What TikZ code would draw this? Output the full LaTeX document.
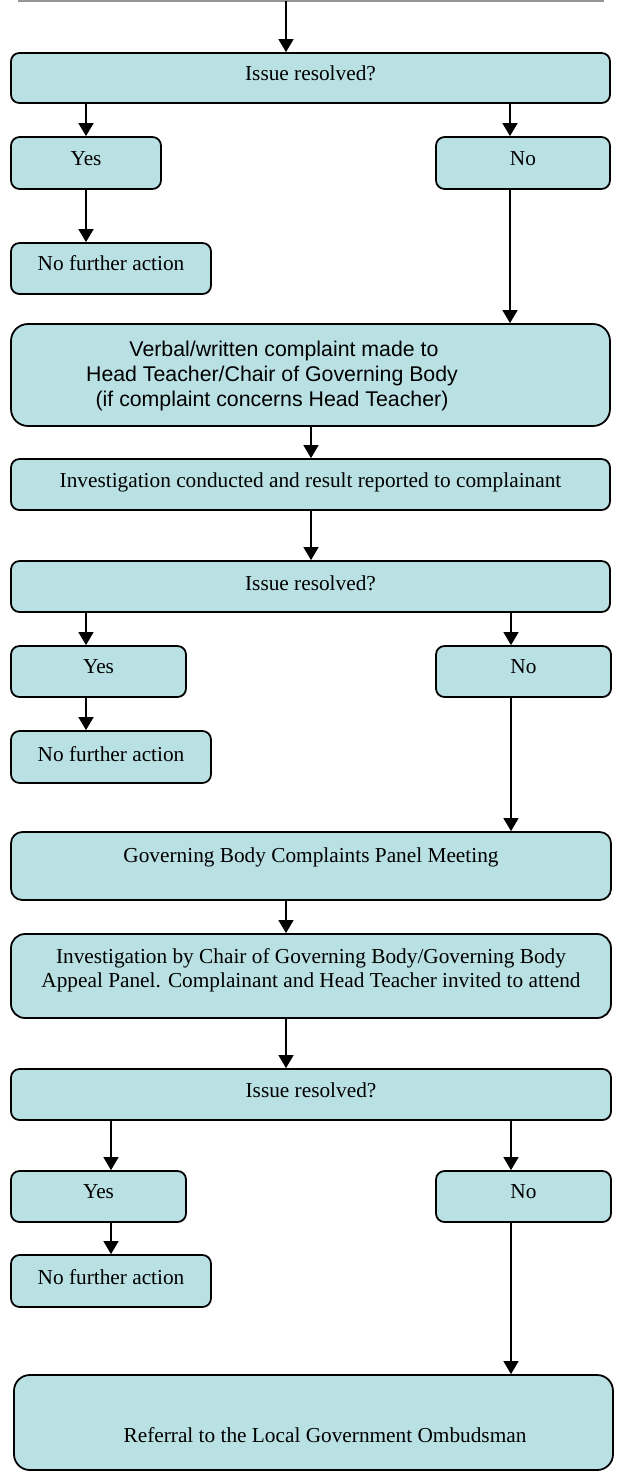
\documentclass[tikz,border=0pt]{standalone}
\usepackage{fontspec}
\setmainfont{Liberation Serif}
\newfontfamily\arialfont{Liberation Sans}
\usetikzlibrary{arrows.meta}
\newcommand\pxu{0.5634pt}
\definecolor{boxfill}{RGB}{185,224,227}
\definecolor{topgray}{RGB}{150,150,150}
\tikzset{
  box/.style={draw=black, line width=1pt, fill=boxfill, inner sep=0pt},
  txt/.style={font=\fontsize{12}{13.8}\selectfont, text height=8.3pt, text depth=2.6pt, inner sep=0pt},
  mtxt/.style={font=\fontsize{12}{13.8}\selectfont, align=center, inner sep=0pt},
  stxt/.style={font=\arialfont\fontsize{12}{14.1}\selectfont, align=center, inner sep=0pt},
  arr/.style={draw=black, line width=0.75pt, -{Triangle[length=13*\pxu, width=15*\pxu]}},
  topline/.style={draw=topgray, line width=1.2pt}
}
\begin{document}
\begin{tikzpicture}[x=0.5634pt, y=-0.5634pt]
\useasboundingbox (0,0) rectangle (616,1473);

% column coordinates
\coordinate (xl) at (86,0);
\coordinate (xl3) at (111,0);
\coordinate (xr) at (510,0);
\coordinate (xr2) at (511,0);
\coordinate (xm) at (311,0);
\coordinate (xt) at (286,0);
\coordinate (gl) at (18,0.6);
\coordinate (gr) at (604,0.6);
\coordinate (top) at (286,1);

\draw[topline] (gl) -- (gr);

% first stage
\node[box, minimum width=599*\pxu, minimum height=50*\pxu, rounded corners=8.3*\pxu,
  label={[txt, yshift=3*\pxu]center:Issue resolved?}] (b1) at (310.5,78) {};
\node[box, minimum width=150*\pxu, minimum height=52*\pxu, rounded corners=8.6*\pxu,
  label={[txt, yshift=3*\pxu]center:Yes}] (y1) at (86,163) {};
\node[box, minimum width=174*\pxu, minimum height=52*\pxu, rounded corners=8.6*\pxu,
  label={[txt, yshift=3*\pxu]center:No}] (n1) at (523,163) {};
\node[box, minimum width=200*\pxu, minimum height=51*\pxu, rounded corners=8.5*\pxu,
  label={[txt, yshift=3.5*\pxu]center:No further action}] (f1) at (111,268.5) {};

\node[box, minimum width=599*\pxu, minimum height=102*\pxu, rounded corners=17*\pxu,
  label={[stxt, xshift=-38.5*\pxu, yshift=-1*\pxu]center:{\hspace*{13.5pt}Verbal/written complaint made to\\Head Teacher/Chair of Governing Body\\(if complaint concerns Head Teacher)}}] (v) at (310.5,375) {};
\node[box, minimum width=599*\pxu, minimum height=51*\pxu, rounded corners=8.5*\pxu,
  label={[txt, yshift=2.5*\pxu]center:Investigation conducted and result reported to complainant}] (i) at (310.5,484.5) {};

% second stage
\node[box, minimum width=599*\pxu, minimum height=51*\pxu, rounded corners=8.5*\pxu,
  label={[txt, yshift=1.5*\pxu]center:Issue resolved?}] (b2) at (310.5,586.5) {};
\node[box, minimum width=175*\pxu, minimum height=51*\pxu, rounded corners=8.5*\pxu,
  label={[txt, yshift=3.5*\pxu]center:Yes}] (y2) at (98.5,671.5) {};
\node[box, minimum width=175*\pxu, minimum height=51*\pxu, rounded corners=8.5*\pxu,
  label={[txt, yshift=3.5*\pxu]center:No}] (n2) at (523.5,671.5) {};
\node[box, minimum width=200*\pxu, minimum height=52*\pxu, rounded corners=8.6*\pxu,
  label={[txt, yshift=1*\pxu]center:No further action}] (f2) at (111,757) {};

\node[box, minimum width=600*\pxu, minimum height=68*\pxu, rounded corners=11.3*\pxu,
  label={[txt, yshift=9*\pxu]center:Governing Body Complaints Panel Meeting}] (g) at (311,866) {};
\node[box, minimum width=600*\pxu, minimum height=84*\pxu, rounded corners=14*\pxu,
  label={[mtxt, yshift=5.5*\pxu]center:{Investigation by Chair of Governing Body/Governing Body\\Appeal Panel. Complainant and Head Teacher invited to attend}}] (c) at (311,976) {};

% third stage
\node[box, minimum width=600*\pxu, minimum height=51*\pxu, rounded corners=8.5*\pxu,
  label={[txt, yshift=2.5*\pxu]center:Issue resolved?}] (b3) at (311,1094.5) {};
\node[box, minimum width=175*\pxu, minimum height=51*\pxu, rounded corners=8.5*\pxu,
  label={[txt, yshift=3.5*\pxu]center:Yes}] (y3) at (98.5,1196.5) {};
\node[box, minimum width=175*\pxu, minimum height=51*\pxu, rounded corners=8.5*\pxu,
  label={[txt, yshift=3.5*\pxu]center:No}] (n3) at (523.5,1196.5) {};
\node[box, minimum width=200*\pxu, minimum height=52*\pxu, rounded corners=8.6*\pxu,
  label={[txt, yshift=2*\pxu]center:No further action}] (f3) at (111,1281) {};

\node[box, minimum width=599*\pxu, minimum height=95*\pxu, rounded corners=15.8*\pxu,
  label={[txt, xshift=11.5*\pxu, yshift=-14.5*\pxu]center:Referral to the Local Government Ombudsman}] (r) at (313.5,1422.5) {};

% connectors
\draw[arr] (top) -- (b1.north -| top);
\draw[arr] (b1.south -| xl) -- (y1.north -| xl);
\draw[arr] (b1.south -| xr) -- (n1.north -| xr);
\draw[arr] (y1.south -| xl) -- (f1.north -| xl);
\draw[arr] (n1.south -| xr) -- (v.north -| xr);
\draw[arr] (v.south -| xm) -- (i.north -| xm);
\draw[arr] (i.south -| xm) -- (b2.north -| xm);
\draw[arr] (b2.south -| xl) -- (y2.north -| xl);
\draw[arr] (b2.south -| xr2) -- (n2.north -| xr2);
\draw[arr] (y2.south -| xl) -- (f2.north -| xl);
\draw[arr] (n2.south -| xr2) -- (g.north -| xr2);
\draw[arr] (g.south -| xt) -- (c.north -| xt);
\draw[arr] (c.south -| xt) -- (b3.north -| xt);
\draw[arr] (b3.south -| xl3) -- (y3.north -| xl3);
\draw[arr] (b3.south -| xr2) -- (n3.north -| xr2);
\draw[arr] (y3.south -| xl3) -- (f3.north -| xl3);
\draw[arr] (n3.south -| xr2) -- (r.north -| xr2);
\end{tikzpicture}
\end{document}
